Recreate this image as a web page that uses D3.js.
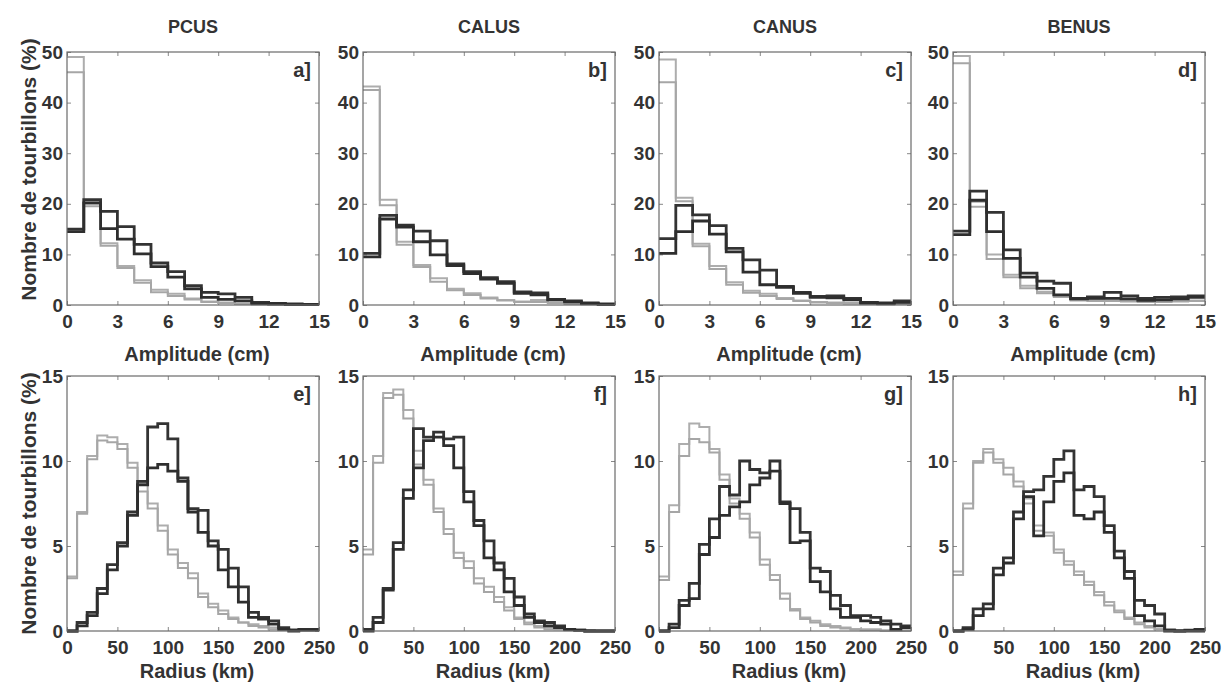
<!DOCTYPE html>
<html lang="fr">
<head>
<meta charset="UTF-8">
<title>Histogrammes tourbillons</title>
<script src="https://cdn.jsdelivr.net/npm/d3@7"></script>
<style>
  body { margin: 0; background: #fff; }
  text { font-family: "Liberation Sans", Arial, sans-serif; font-weight: bold; fill: #333; }
</style>
</head>
<body>
<svg width="1228" height="688"></svg>
<script>

    // regions (column titles) and panel letters
    var regions = ["PCUS", "CALUS", "CANUS", "BENUS"];
    var ampLetters = ["a]", "b]", "c]", "d]"];
    var radLetters = ["e]", "f]", "g]", "h]"];

    // bin edges and tick labels
    var ampEdges = [0, 1, 2, 3, 4, 5, 6, 7, 8, 9, 10, 11, 12, 13, 14, 15];
    var radEdges = [0, 10, 20, 30, 40, 50, 60, 70, 80, 90, 100, 110, 120, 130, 140, 150,
                    160, 170, 180, 190, 200, 210, 220, 230, 240, 250];
    var ampXTicks = [0, 3, 6, 9, 12, 15];
    var ampYTicks = [0, 10, 20, 30, 40, 50];
    var radXTicks = [0, 50, 100, 150, 200, 250];
    var radYTicks = [0, 5, 10, 15];

    // amplitude histograms (%), light = grey curves, dark = black curves
    var ampPCUSLight1 = [49, 20, 12.2, 7.7, 4.9, 3.0, 2.2, 1.3, 0.7, 0.5, 0.3, 0.2, 0.2, 0.1, 0.1];
    var ampPCUSLight2 = [46, 19.5, 11.7, 7.3, 4.4, 2.5, 1.8, 1.1, 0.6, 0.4, 0.2, 0.1, 0.1, 0.05, 0.05];
    var ampPCUSDark1  = [15, 20.8, 18.5, 15.5, 12, 8.3, 6.6, 3.8, 2.5, 2.2, 1.5, 0.5, 0.3, 0.2, 0.1];
    var ampPCUSDark2  = [14.5, 20.2, 15.1, 13, 10.1, 7.6, 5.5, 3.2, 1.5, 1.1, 0.8, 0.3, 0.2, 0.1, 0.1];

    var ampCALUSLight1 = [43.2, 20.8, 12.5, 7.9, 5.3, 3.2, 2.3, 1.5, 1.0, 0.7, 1.0, 0.5, 0.3, 0.2, 0.1];
    var ampCALUSLight2 = [42.5, 19.7, 11.9, 7.5, 4.6, 2.9, 2.0, 1.3, 0.9, 0.6, 0.6, 0.4, 0.2, 0.1, 0.05];
    var ampCALUSDark1  = [10.2, 17.7, 15.8, 14.6, 12.7, 8.1, 6.6, 5.4, 4.6, 2.6, 2.4, 1.1, 0.8, 0.4, 0.2];
    var ampCALUSDark2  = [9.5, 17.0, 15.4, 12.5, 9.9, 7.8, 6.2, 5.1, 4.3, 2.3, 2.0, 1.0, 0.6, 0.3, 0.1];

    var ampCANUSLight1 = [48.5, 21.2, 12.1, 7.7, 4.5, 2.8, 2.2, 1.4, 0.9, 0.6, 0.5, 0.4, 0.3, 0.2, 0.3];
    var ampCANUSLight2 = [44, 20.5, 11.6, 7.1, 4.0, 2.4, 1.8, 1.2, 0.8, 0.5, 0.4, 0.3, 0.2, 0.1, 0.2];
    var ampCANUSDark1  = [13.1, 19.7, 17.8, 15.7, 11.2, 8.9, 6.9, 3.7, 2.5, 1.7, 1.8, 1.3, 0.5, 0.3, 0.8];
    var ampCANUSDark2  = [10.2, 14.5, 16.6, 14.0, 10.5, 6.5, 4.0, 3.5, 2.3, 1.5, 1.4, 1.0, 0.4, 0.4, 0.5];

    var ampBENUSLight1 = [49.2, 20.4, 10.0, 6.0, 3.8, 2.6, 1.8, 1.0, 1.0, 0.9, 0.8, 0.7, 0.7, 0.8, 0.9];
    var ampBENUSLight2 = [47.8, 19.4, 9.1, 5.5, 3.3, 2.3, 1.6, 0.9, 0.8, 0.8, 0.7, 0.6, 0.6, 0.7, 0.8];
    var ampBENUSDark1  = [14.6, 22.5, 18.3, 10.9, 6.3, 4.7, 4.3, 1.3, 1.6, 2.5, 1.8, 1.3, 1.5, 1.6, 1.8];
    var ampBENUSDark2  = [13.9, 20.7, 14.5, 9.2, 5.5, 3.3, 2.0, 1.2, 1.3, 1.3, 1.2, 0.9, 1.0, 1.2, 1.5];

    // radius histograms (%)
    var radPCUSLight1 = [3.2, 7.0, 10.3, 11.5, 11.4, 11.0, 9.9, 8.7, 7.5, 6.2, 4.8, 4.0, 3.4, 2.2, 1.6, 1.2, 0.8, 0.5, 0.4, 0.3, 0.2, 0.1, 0.1, 0.1, 0.1];
    var radPCUSLight2 = [3.1, 6.9, 10.1, 11.2, 11.1, 10.7, 9.6, 8.2, 7.2, 5.9, 4.5, 3.7, 3.1, 2.0, 1.4, 1.0, 0.7, 0.5, 0.3, 0.2, 0.1, 0.1, 0.05, 0.05, 0.05];
    var radPCUSDark1  = [0.0, 0.5, 1.1, 2.5, 3.9, 5.2, 7.0, 8.8, 12.0, 12.2, 11.3, 9.0, 7.2, 7.1, 5.3, 4.8, 3.7, 2.6, 1.1, 0.8, 0.6, 0.2, 0.05, 0.1, 0.1];
    var radPCUSDark2  = [0.0, 0.3, 0.9, 2.2, 3.6, 5.0, 6.8, 8.6, 9.6, 9.8, 9.4, 8.8, 7.0, 5.8, 5.0, 3.6, 2.6, 1.7, 0.8, 0.7, 0.4, 0.1, 0.0, 0.05, 0.05];

    var radCALUSLight1 = [4.8, 10.3, 14.0, 14.2, 13.0, 10.6, 8.9, 7.2, 6.0, 4.6, 4.1, 3.1, 2.6, 2.0, 1.4, 0.8, 0.5, 0.3, 0.2, 0.1, 0.1, 0.05, 0.05, 0.0, 0.0];
    var radCALUSLight2 = [4.5, 9.9, 13.7, 13.9, 12.5, 9.8, 8.6, 7.0, 5.7, 4.3, 3.7, 2.8, 2.3, 1.7, 1.2, 0.7, 0.4, 0.2, 0.1, 0.1, 0.05, 0.0, 0.0, 0.0, 0.0];
    var radCALUSDark1  = [0.1, 0.8, 2.5, 5.2, 8.3, 11.9, 11.4, 11.7, 11.3, 11.4, 8.2, 6.5, 5.3, 4.0, 3.1, 2.0, 1.0, 0.6, 0.5, 0.3, 0.1, 0.05, 0.0, 0.0, 0.0];
    var radCALUSDark2  = [0.0, 0.5, 2.4, 4.8, 7.8, 9.6, 11.2, 11.4, 10.9, 9.6, 7.6, 6.2, 4.3, 3.6, 2.3, 1.5, 0.8, 0.5, 0.3, 0.2, 0.1, 0.05, 0.0, 0.0, 0.0];

    var radCANUSLight1 = [3.2, 7.4, 11.0, 12.2, 12.0, 10.7, 9.2, 7.8, 6.9, 5.8, 4.2, 3.3, 2.2, 1.3, 0.8, 0.6, 0.4, 0.3, 0.2, 0.1, 0.1, 0.1, 0.05, 0.05, 0.05];
    var radCANUSLight2 = [3.0, 7.0, 10.3, 11.3, 11.1, 10.5, 8.9, 7.5, 6.6, 5.5, 3.9, 3.0, 1.9, 1.2, 0.7, 0.5, 0.3, 0.2, 0.15, 0.1, 0.05, 0.05, 0.0, 0.0, 0.0];
    var radCANUSDark1  = [0.0, 0.4, 1.8, 2.8, 5.1, 6.6, 8.5, 8.0, 10.0, 9.5, 9.3, 10.0, 7.6, 7.2, 5.8, 3.7, 3.5, 2.1, 1.5, 0.9, 0.9, 0.8, 0.6, 0.4, 0.3];
    var radCANUSDark2  = [0.0, 0.2, 1.5, 1.9, 4.5, 5.5, 6.8, 7.3, 7.6, 8.6, 9.0, 9.4, 7.5, 5.2, 5.3, 2.9, 2.3, 1.3, 0.8, 0.8, 0.6, 0.5, 0.4, 0.1, 0.2];

    var radBENUSLight1 = [3.5, 7.5, 10.0, 10.7, 10.1, 9.6, 8.8, 7.8, 6.2, 5.8, 4.8, 4.1, 3.5, 2.9, 2.3, 1.7, 1.2, 0.8, 0.5, 0.3, 0.1, 0.1, 0.05, 0.05, 0.05];
    var radBENUSLight2 = [3.3, 7.2, 9.9, 10.5, 9.9, 9.2, 8.5, 7.5, 5.9, 5.6, 4.6, 3.9, 3.3, 2.7, 2.1, 1.5, 1.1, 0.7, 0.4, 0.2, 0.1, 0.05, 0.0, 0.0, 0.0];
    var radBENUSDark1  = [0.0, 0.2, 1.3, 1.6, 3.7, 4.3, 7.0, 8.2, 8.3, 9.1, 10.1, 10.6, 8.3, 8.5, 7.9, 6.2, 4.7, 3.5, 1.8, 1.5, 1.0, 0.05, 0.0, 0.05, 0.1];
    var radBENUSDark2  = [0.0, 0.1, 0.9, 1.3, 3.3, 4.0, 6.6, 7.9, 5.6, 7.6, 8.8, 9.3, 6.8, 6.6, 7.0, 5.8, 4.3, 3.1, 0.9, 0.6, 0.3, 0.0, 0.0, 0.0, 0.0];

    var ampSeries = [
        [ampPCUSLight1, ampPCUSLight2, ampPCUSDark1, ampPCUSDark2],
        [ampCALUSLight1, ampCALUSLight2, ampCALUSDark1, ampCALUSDark2],
        [ampCANUSLight1, ampCANUSLight2, ampCANUSDark1, ampCANUSDark2],
        [ampBENUSLight1, ampBENUSLight2, ampBENUSDark1, ampBENUSDark2]
    ];
    var radSeries = [
        [radPCUSLight1, radPCUSLight2, radPCUSDark1, radPCUSDark2],
        [radCALUSLight1, radCALUSLight2, radCALUSDark1, radCALUSDark2],
        [radCANUSLight1, radCANUSLight2, radCANUSDark1, radCANUSDark2],
        [radBENUSLight1, radBENUSLight2, radBENUSDark1, radBENUSDark2]
    ];

    var lineColors = ["#adadad", "#a6a6a6", "#333333", "#2e2e2e"];
    var lineWidths = [2, 2, 2.8, 2.8];

    var svg = d3.select("svg");

    // panel layout
    var colX = [67, 363, 659, 953],
        panelW = 252;

    var rows = [
        { top: 52, h: 253, edges: ampEdges, xTicks: ampXTicks, yTicks: ampYTicks, yMax: 50,
          series: ampSeries, letters: ampLetters, xLabel: "Amplitude (cm)", xLabelDy: 56 },
        { top: 376, h: 255, edges: radEdges, xTicks: radXTicks, yTicks: radYTicks, yMax: 15,
          series: radSeries, letters: radLetters, xLabel: "Radius (km)", xLabelDy: 47 }
    ];

    rows.forEach(function (row, r) {
        colX.forEach(function (left, c) {
            var g = svg.append("g").attr("transform", "translate(" + left + "," + row.top + ")");
            var x = d3.scaleLinear().domain([row.edges[0], row.edges[row.edges.length - 1]]).range([0, panelW]);
            var y = d3.scaleLinear().domain([0, row.yMax]).range([row.h, 0]);

            // axes with inward ticks
            g.append("g").attr("transform", "translate(0," + row.h + ")")
                .call(d3.axisBottom(x).tickValues(row.xTicks).tickSize(-4).tickPadding(10));
            g.append("g")
                .call(d3.axisLeft(y).tickValues(row.yTicks).tickSize(-4).tickPadding(4));
            g.append("g").call(d3.axisTop(x).tickValues(row.xTicks).tickSize(-4).tickFormat(""));
            g.append("g").attr("transform", "translate(" + panelW + ",0)")
                .call(d3.axisRight(y).tickValues(row.yTicks).tickSize(-4).tickFormat(""));

            g.selectAll(".domain").remove();
            g.selectAll(".tick line").attr("stroke", "#888");
            g.selectAll(".tick text").style("font-size", "19px").attr("fill", "#333");

            // step histograms
            var line = d3.line()
                .x(function (d, i) { return x(row.edges[i]); })
                .y(function (d) { return y(d); })
                .curve(d3.curveStepAfter);

            row.series[c].forEach(function (vals, k) {
                g.append("path")
                    .datum(vals.concat([vals[vals.length - 1]]))
                    .attr("fill", "none")
                    .attr("stroke", lineColors[k])
                    .attr("stroke-width", lineWidths[k])
                    .attr("d", line);
            });

            // frame
            g.append("rect")
                .attr("width", panelW).attr("height", row.h)
                .attr("fill", "none").attr("stroke", "#6a6a6a").attr("stroke-width", 1.2);

            // panel letter
            g.append("text")
                .attr("x", panelW - 8).attr("y", 25)
                .attr("text-anchor", "end")
                .style("font-size", "20px")
                .text(row.letters[c]);

            // x label
            g.append("text")
                .attr("x", panelW / 2 + 4).attr("y", row.h + row.xLabelDy)
                .attr("text-anchor", "middle")
                .style("font-size", "20px")
                .text(row.xLabel);

            if (r === 0) {
                g.append("text")
                    .attr("x", panelW / 2).attr("y", -19)
                    .attr("text-anchor", "middle")
                    .style("font-size", "18px")
                    .text(regions[c]);
            }
            if (c === 0) {
                g.append("text")
                    .attr("transform", "translate(-31," + (row.h / 2 - (r === 0 ? 9 : 0)) + ") rotate(-90)")
                    .attr("text-anchor", "middle")
                    .style("font-size", "21px")
                    .text("Nombre de tourbillons (%)");
            }
        });
    });

</script>
</body>
</html>
